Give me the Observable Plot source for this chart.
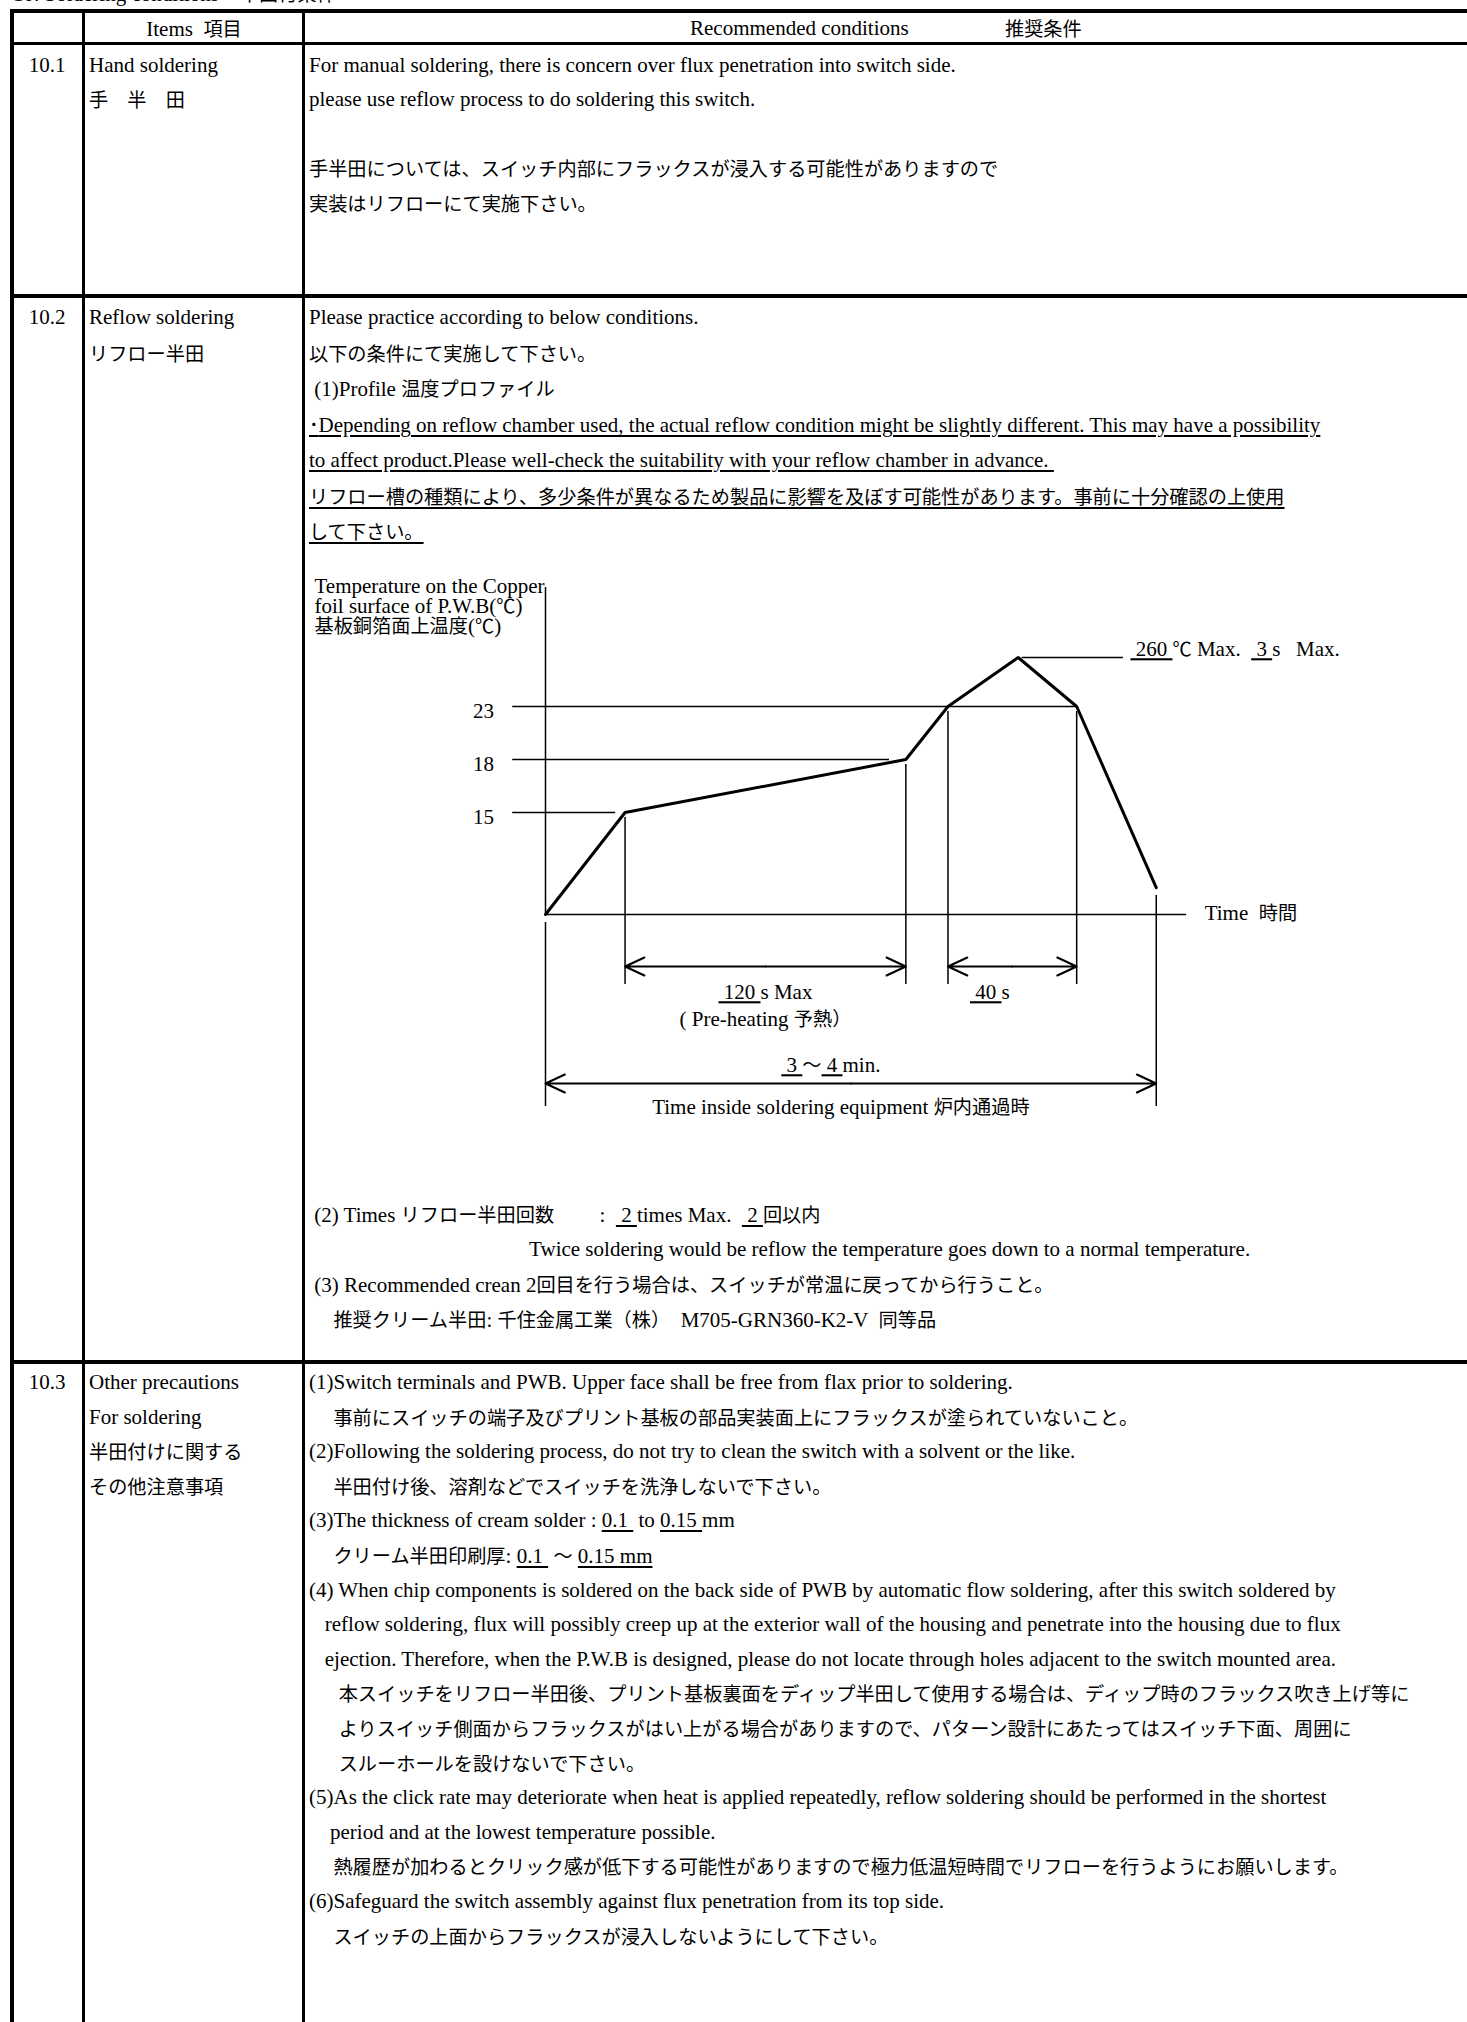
<!DOCTYPE html>
<html><head><meta charset="utf-8">
<script src="https://cdn.jsdelivr.net/npm/d3@7"></script>
<script src="https://cdn.jsdelivr.net/npm/@observablehq/plot@0.6"></script>
<style>
html,body{margin:0;padding:0;background:#fff;}
#page{position:relative;width:1467px;height:2022px;overflow:hidden;background:#fff;}
.ln{position:absolute;background:#000;}
.t{position:absolute;white-space:pre;font-family:"Liberation Serif","Times New Roman",serif;font-size:21px;line-height:26px;color:#000;}
.t.c{transform:translateX(-50%);}
.j{font-family:"Noto Sans CJK JP",sans-serif;font-size:19.2px;}
.t u{text-decoration-thickness:1.6px;text-underline-offset:3px;}
#chart{position:absolute;left:304px;top:555px;width:1163px;height:590px;}
</style></head><body><div id="page"><div id="chart"></div></div>
<script>
// ---------------- text content ----------------
const titleText = "10. Soldering conditions    半田付条件";
const headerItems = "Items  項目";
const headerCond = "Recommended conditions";
const headerCondJa = "推奨条件";
const sectionNumbers = ["10.1", "10.2", "10.3"];
const itemLines101 = ["Hand soldering", "手　半　田"];
const itemLines102 = ["Reflow soldering", "リフロー半田"];
const itemLines103 = ["Other precautions", "For soldering", "半田付けに関する", "その他注意事項"];
const condLines101 = [
  "For manual soldering, there is concern over flux penetration into switch side.",
  "please use reflow process to do soldering this switch.",
  "",
  "手半田については、スイッチ内部にフラックスが浸入する可能性がありますので",
  "実装はリフローにて実施下さい。"
];
const condLines102a = [
  "Please practice according to below conditions.",
  "以下の条件にて実施して下さい。",
  " (1)Profile 温度プロファイル",
  "_･Depending on reflow chamber used, the actual reflow condition might be slightly different. This may have a possibility_",
  "_to affect product.Please well-check the suitability with your reflow chamber in advance. _",
  "_リフロー槽の種類により、多少条件が異なるため製品に影響を及ぼす可能性があります。事前に十分確認の上使用_",
  "_して下さい。_"
];
const condLines102b = [
  " (2) Times リフロー半田回数　     :  _\u00a02\u00a0_times Max.  _\u00a02\u00a0_回以内",
  " ".repeat(42) + "Twice soldering would be reflow the temperature goes down to a normal temperature.",
  " (3) Recommended crean 2回目を行う場合は、スイッチが常温に戻ってから行うこと。",
  "　 推奨クリーム半田: 千住金属工業（株）  M705-GRN360-K2-V  同等品"
];
const condLines103 = [
  "(1)Switch terminals and PWB. Upper face shall be free from flax prior to soldering.",
  "　 事前にスイッチの端子及びプリント基板の部品実装面上にフラックスが塗られていないこと。",
  "(2)Following the soldering process, do not try to clean the switch with a solvent or the like.",
  "　 半田付け後、溶剤などでスイッチを洗浄しないで下さい。",
  "(3)The thickness of cream solder : _0.1 _ to _0.15 _mm",
  "　 クリーム半田印刷厚: _0.1 _ ～ _0.15 mm_",
  "(4) When chip components is soldered on the back side of PWB by automatic flow soldering, after this switch soldered by",
  "   reflow soldering, flux will possibly creep up at the exterior wall of the housing and penetrate into the housing due to flux",
  "   ejection. Therefore, when the P.W.B is designed, please do not locate through holes adjacent to the switch mounted area.",
  "　  本スイッチをリフロー半田後、プリント基板裏面をディップ半田して使用する場合は、ディップ時のフラックス吹き上げ等に",
  "　  よりスイッチ側面からフラックスがはい上がる場合がありますので、パターン設計にあたってはスイッチ下面、周囲に",
  "　  スルーホールを設けないで下さい。",
  "(5)As the click rate may deteriorate when heat is applied repeatedly, reflow soldering should be performed in the shortest",
  "    period and at the lowest temperature possible.",
  "　 熱履歴が加わるとクリック感が低下する可能性がありますので極力低温短時間でリフローを行うようにお願いします。",
  "(6)Safeguard the switch assembly against flux penetration from its top side.",
  "　 スイッチの上面からフラックスが浸入しないようにして下さい。"
];

// ---------------- chart data (schematic reflow profile) ----------------
const profileTime = [0, 34, 154, 172, 202, 227, 261];      // s
const profileTemp = [25, 150, 180, 230, 260, 230, 58];     // °C
const tickTemps = [230, 180, 150];
const tickLabels = ["23", "18", "15"];
const tickLineEnds = [227, 147, 30];
const dropShortTime = [34, 154, 172, 227];
const dropShortTemp = [150, 180, 230, 230];
const dropLongTime = [0, 261];
const dropLongTemp = [25, 58];
const spanStart = [34, 172];
const spanEnd = [154, 227];
const totalStart = [0];
const totalEnd = [261];
const yAxisLabel = ["Temperature on the Copper", "foil surface of P.W.B(℃)", "基板銅箔面上温度(℃)"];
const xAxisLabel = "Time\u00a0\u00a0時間";
const peakLabel = "_\u00a0260\u00a0_℃ Max.\u00a0\u00a0_\u00a03\u00a0_s\u00a0\u00a0\u00a0Max.";
const preheatLabel = "_\u00a0120\u00a0_s Max";
const preheatNote = "( Pre-heating 予熱）";
const peakWindowLabel = "_\u00a040\u00a0_s";
const totalLabel = "_\u00a03\u00a0_～_\u00a04\u00a0_min.";
const totalNote = "Time inside soldering equipment 炉内通過時";
const baseTemp = 25, topTemp = 300, xAxisEnd = 274, peakLeaderEnd = 247, tickLineStart = -14, tickLabelX = -22;

// ---------------- helpers ----------------
const CJK = /[\u2103\u3000-\u30ff\u3400-\u9fff\uff00-\uffef]/;
function segments(s) {
  return s.split("_").map((part, k) => {
    const rs = []; let cur = "", cj = null;
    for (const ch of part) {
      const j = CJK.test(ch);
      if (cj !== null && j !== cj) { rs.push({text: cur, j: cj}); cur = ""; }
      cur += ch; cj = j;
    }
    if (cur) rs.push({text: cur, j: cj});
    return {u: k % 2 === 1, runs: rs};
  });
}
const esc = s => s.replace(/&/g, "&amp;").replace(/</g, "&lt;");
function toHTML(s) {
  return segments(s).map(seg => {
    const inner = seg.runs.map(r => r.j ? `<span class="j">${esc(r.text)}</span>` : esc(r.text)).join("");
    return seg.u ? `<u>${inner}</u>` : inner;
  }).join("");
}
const page = document.getElementById("page");
function line(left, top, w, h) {
  const d = document.createElement("div"); d.className = "ln";
  Object.assign(d.style, {left: left + "px", top: top + "px", width: w + "px", height: h + "px"});
  page.appendChild(d);
}
function text(s, x, cy, center) {
  const d = document.createElement("div"); d.className = "t" + (center ? " c" : "");
  d.style.left = x + "px"; d.style.top = (cy - 13) + "px";
  d.innerHTML = toHTML(s);
  page.appendChild(d);
}
function block(lines, x, y0, step) { lines.forEach((s, i) => { if (s) text(s, x, y0 + i * step); }); }

// ---------------- table frame ----------------
line(10, 9, 1457, 4);      // top
line(10, 42, 1457, 3);     // header bottom
line(10, 294, 1457, 4);    // 10.1 | 10.2
line(10, 1360, 1457, 4);   // 10.2 | 10.3
line(10, 9, 4, 2013);      // left border
line(82, 9, 3, 2013);      // col 1
line(302, 9, 3, 2013);     // col 2

// ---------------- table text ----------------
text(titleText, 13, -7);
text(headerItems, 194, 27.5, true);
text(headerCond, 690, 27.5);
text(headerCondJa, 1005, 27.5);

const colNum = 47, colItem = 89, colCond = 309;
text(sectionNumbers[0], colNum, 64.5, true);
block(itemLines101, colItem, 64.5, 34.5);
block(condLines101, colCond, 64.5, 34.5);

text(sectionNumbers[1], colNum, 317, true);
block(itemLines102, colItem, 317, 35.7);
block(condLines102a, colCond, 317, 35.7);
block(condLines102b, colCond, 1214, 35);

text(sectionNumbers[2], colNum, 1382, true);
block(itemLines103, colItem, 1382, 34.6);
block(condLines103, colCond, 1382, 34.6);

// ---------------- chart ----------------
const serif = "Liberation Serif, Times New Roman, serif";
const txt = {fontSize: 21, fontFamily: serif, fill: "black"};
const spanIdx = spanStart.map((d, i) => i);
const totalIdx = totalStart.map((d, i) => i);
const arrowStyle = {headLength: 16, headAngle: 50, strokeWidth: 2, stroke: "black"};

const chart = Plot.plot({
  width: 1163, height: 590, margin: 0,
  style: {background: "transparent", overflow: "visible", maxWidth: "none"},
  x: {type: "linear", domain: [0, 300], range: [241, 943], axis: null},
  y: {type: "linear", domain: [25, 150, 180, 230, 260, 300], range: [359, 257, 204, 151, 102, 32], axis: null},
  marks: [
    // axes
    Plot.ruleX([0], {x: d => d, y1: baseTemp, y2: topTemp, strokeWidth: 1.5}),
    Plot.ruleY([baseTemp], {y: d => d, x1: 0, x2: xAxisEnd, strokeWidth: 1.5}),
    // temperature reference lines & labels
    Plot.ruleY(tickTemps, {y: d => d, x1: tickLineStart, x2: (d, i) => tickLineEnds[i], strokeWidth: 1.5}),
    Plot.text(tickTemps, {y: d => d, x: tickLabelX, text: (d, i) => tickLabels[i], textAnchor: "end", dy: 5, ...txt}),
    // drop lines
    Plot.ruleX(dropShortTime, {x: d => d, y1: (d, i) => dropShortTemp[i], y2: baseTemp, insetTop: 5, insetBottom: -70, strokeWidth: 1.5}),
    Plot.ruleX(dropLongTime, {x: d => d, y1: (d, i) => dropLongTemp[i], y2: baseTemp, insetTop: 8, insetBottom: -192, strokeWidth: 1.5}),
    // profile
    Plot.line(profileTime, {x: d => d, y: (d, i) => profileTemp[i], strokeWidth: 3, stroke: "black", strokeLinejoin: "miter"}),
    // peak leader and label
    Plot.ruleY([260], {y: d => d, x1: profileTime[4], x2: peakLeaderEnd, insetLeft: 4, strokeWidth: 1.5}),
    Plot.text([peakLabel], {x: peakLeaderEnd, y: 260, dx: 7, dy: -8, textAnchor: "start", ...txt}),
    // dimension arrows
    Plot.arrow(spanIdx, {x1: i => (spanStart[i] + spanEnd[i]) / 2, x2: i => spanEnd[i], y1: baseTemp, y2: baseTemp, dy: 52, ...arrowStyle}),
    Plot.arrow(spanIdx, {x1: i => (spanStart[i] + spanEnd[i]) / 2, x2: i => spanStart[i], y1: baseTemp, y2: baseTemp, dy: 52, ...arrowStyle}),
    Plot.arrow(totalIdx, {x1: i => (totalStart[i] + totalEnd[i]) / 2, x2: i => totalEnd[i], y1: baseTemp, y2: baseTemp, dy: 169, ...arrowStyle}),
    Plot.arrow(totalIdx, {x1: i => (totalStart[i] + totalEnd[i]) / 2, x2: i => totalStart[i], y1: baseTemp, y2: baseTemp, dy: 169, ...arrowStyle}),
    // annotation texts
    Plot.text([preheatLabel], {x: (spanStart[0] + spanEnd[0]) / 2, y: baseTemp, dy: 78, textAnchor: "middle", ...txt}),
    Plot.text([preheatNote], {x: (spanStart[0] + spanEnd[0]) / 2, y: baseTemp, dy: 105, textAnchor: "middle", ...txt}),
    Plot.text([peakWindowLabel], {x: spanStart[1], y: baseTemp, dx: 22, dy: 78, textAnchor: "start", ...txt}),
    Plot.text([totalLabel], {x: (totalStart[0] + totalEnd[0]) / 2, y: baseTemp, dx: -20, dy: 151, textAnchor: "middle", ...txt}),
    Plot.text([totalNote], {x: (totalStart[0] + totalEnd[0]) / 2, y: baseTemp, dx: -10, dy: 193, textAnchor: "middle", ...txt}),
    // axis labels
    Plot.text([yAxisLabel.join("\n")], {x: 0, y: topTemp, dx: -231, dy: 19, textAnchor: "start", lineHeight: 0.96, ...txt}),
    Plot.text([xAxisLabel], {x: xAxisEnd, y: baseTemp, dx: 18, dy: -1, textAnchor: "start", ...txt})
  ]
});
document.getElementById("chart").appendChild(chart);

// rich text (underline + CJK size) inside the SVG
const SVGNS = "http://www.w3.org/2000/svg";
function richify(node) {
  const s = node.textContent;
  while (node.firstChild) node.removeChild(node.firstChild);
  for (const seg of segments(s)) {
    for (const r of seg.runs) {
      const ts = document.createElementNS(SVGNS, "tspan");
      ts.textContent = r.text;
      if (r.j) { ts.setAttribute("font-family", "Noto Sans CJK JP, sans-serif"); ts.setAttribute("font-size", "19.2"); }
      if (seg.u) ts.style.textDecoration = "underline";
      node.appendChild(ts);
    }
  }
}
chart.querySelectorAll("text").forEach(t => {
  const kids = t.querySelectorAll("tspan");
  if (kids.length) kids.forEach(richify); else richify(t);
});
</script></body></html>
